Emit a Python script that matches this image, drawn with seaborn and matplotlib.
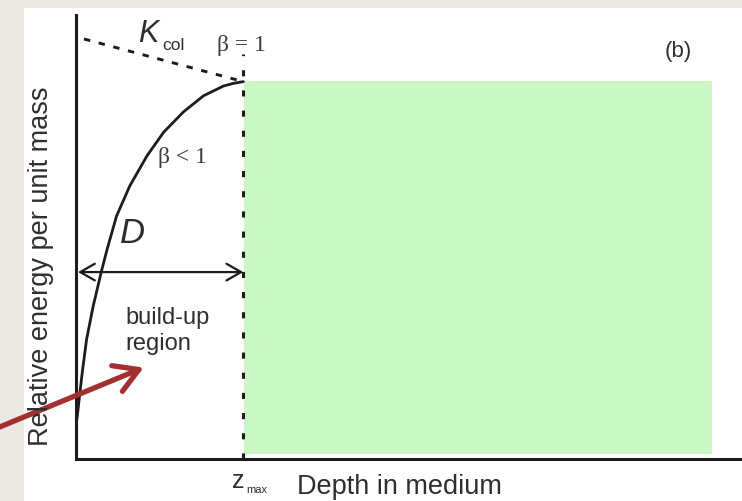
import matplotlib
matplotlib.use("Agg")
import matplotlib.pyplot as plt
from matplotlib.patches import Rectangle
import numpy as np
import pandas as pd
import seaborn as sns

# Build-up curve (beta < 1): relative energy vs depth, depth and energy on a 0-100 scale
depth = [0.15, 0.53, 0.95, 1.6, 2.6, 3.8, 4.7, 6.1, 8.1, 10.7, 13.2, 16.2,
         19.2, 22.2, 23.7, 25.2]
energy = [9.0, 14.2, 19.6, 27.0, 34.5, 42.1, 47.3, 54.7, 61.5, 68.3, 73.6, 78.2,
          81.8, 84.0, 84.6, 85.0]

# Collision kerma line K_col (beta = 1)
kcol_depth = [1.2, 25.2]
kcol_energy = [94.6, 85.0]

# Depth of maximum dose and build-up span
z_max = 25.2
zmax_line_top = 91.2
buildup_level = 42.1

# Region beyond z_max (highlight box)
box_x = [25.3, 95.8]
box_y = [1.1, 85.1]

curve_df = pd.DataFrame({"depth": depth, "energy": energy})
kcol_df = pd.DataFrame({"depth": kcol_depth, "energy": kcol_energy})

sns.set_style("white")
plt.rcParams["font.family"] = ["Liberation Sans", "DejaVu Sans"]

W, H = 742, 502
fig = plt.figure(figsize=(W / 100, H / 100), dpi=100, facecolor="#ECE9E4")
# white slide panel
fig.patches.append(Rectangle((24 / W, 0), 1 - 24 / W, (H - 9) / H,
                             transform=fig.transFigure, facecolor="white",
                             edgecolor="none", zorder=-5))

ax = fig.add_axes([76 / W, 42 / H, 664 / W, 444 / H])
ax.set_facecolor("none")
ax.set_xlim(0, 100)
ax.set_ylim(0, 100)

ink = "#1c1c1c"
ax.add_patch(Rectangle((box_x[0], box_y[0]), box_x[1] - box_x[0], box_y[1] - box_y[0],
                       facecolor="#C9F8C4", edgecolor="none", zorder=1))

sns.lineplot(data=curve_df, x="depth", y="energy", ax=ax, color=ink, lw=2.0,
             estimator=None, sort=False, zorder=3)
sns.lineplot(data=kcol_df, x="depth", y="energy", ax=ax, color=ink, lw=2.1,
             linestyle=(0, (2.2, 3.0)), dash_capstyle="butt",
             estimator=None, sort=False, zorder=3)
ax.vlines(z_max, 0, zmax_line_top, colors=ink, lw=2.2,
          linestyles=[(0, (2.0, 4.6))], zorder=3)

# build-up span arrow
ax.annotate("", xy=(z_max, buildup_level), xytext=(0.3, buildup_level),
            arrowprops=dict(arrowstyle="<->,head_length=1.05,head_width=0.6",
                            mutation_scale=10, lw=1.6, color=ink,
                            shrinkA=0, shrinkB=0), zorder=4)

for s in ["top", "right"]:
    ax.spines[s].set_visible(False)
for s in ["left", "bottom"]:
    ax.spines[s].set_linewidth(2.2)
    ax.spines[s].set_color(ink)
ax.set_xticks([])
ax.set_yticks([])
ax.set_xlabel("")
ax.set_ylabel("")

txt = "#2e2e2e"
serif = ["Liberation Serif", "DejaVu Serif"]
ax.text(9.3, 94.1, "K", fontsize=22, style="italic", color=txt, va="baseline", ha="left")
ax.text(13.0, 92.3, "col", fontsize=12.5, color=txt, va="baseline", ha="left")
ax.text(21.2, 92.1, "β = 1", fontsize=17, family=serif,
        color="#3c3c3c", va="baseline", ha="left")
ax.text(12.3, 66.9, "β < 1", fontsize=17, family=serif,
        color="#3c3c3c", va="baseline", ha="left")
ax.text(6.6, 48.9, "D", fontsize=25, style="italic", color=txt, va="baseline", ha="left")
ax.text(7.4, 30.6, "build-up", fontsize=17, color=txt, va="baseline", ha="left")
ax.text(7.4, 24.8, "region", fontsize=17, color=txt, va="baseline", ha="left")
ax.text(88.7, 90.8, "(b)", fontsize=16, color=txt, va="baseline", ha="left")
ax.text(23.5, -6.3, "z", fontsize=18, color=txt, va="baseline", ha="left", clip_on=False)
ax.text(25.6, -7.4, "max", fontsize=8, color=txt, va="baseline", ha="left", clip_on=False)
ax.text(33.3, -7.7, "Depth in medium", fontsize=19.5, color=txt, va="baseline", ha="left",
        clip_on=False)
fig.text(41 / W, (H - 266) / H, "Relative energy per unit mass", fontsize=19.5,
         color=txt, rotation=90, ha="center", va="center")

# pointer arrow into the build-up region
ax.annotate("", xy=(10.2, 20.6), xycoords="data",
            xytext=(-10 / W, (H - 432) / H), textcoords="figure fraction",
            arrowprops=dict(arrowstyle="->,head_length=0.85,head_width=0.5",
                            mutation_scale=20, lw=3.8, color="#A3302F",
                            shrinkA=0, shrinkB=0),
            annotation_clip=False, zorder=6)

fig.savefig("out.png", dpi=100, facecolor=fig.get_facecolor())
